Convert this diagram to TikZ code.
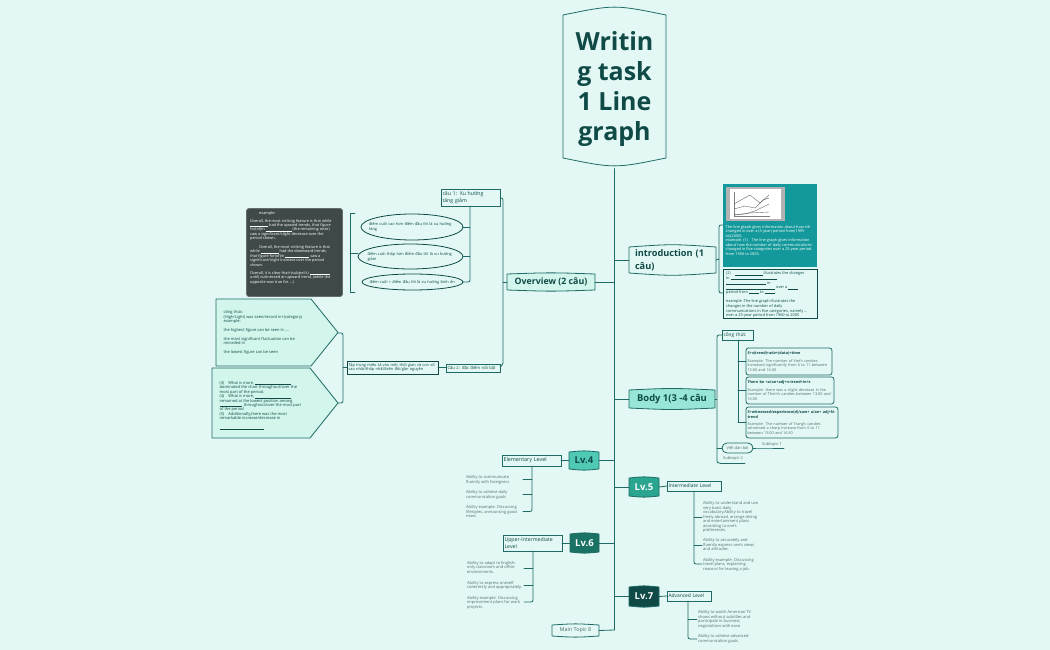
\documentclass[tikz,border=0pt]{standalone}
\usepackage{fontspec}
\setmainfont{Open Sans}
\usetikzlibrary{calc}
\definecolor{bgc}{HTML}{E3F8F5}
\definecolor{ink}{HTML}{0F4A46}
\definecolor{edge}{HTML}{1F6A64}
\definecolor{soft}{HTML}{D2F5EC}
\definecolor{body}{HTML}{97E6D6}
\definecolor{teal}{HTML}{13999B}
\definecolor{lvfour}{HTML}{4FC9B4}
\definecolor{lvfive}{HTML}{2AA58F}
\definecolor{lvsix}{HTML}{1A7265}
\definecolor{darkbox}{HTML}{3F4A48}
\definecolor{greytxt}{HTML}{4F6F6B}
\newcommand\fs[2]{\fontsize{#1}{#2}\selectfont}
\newcommand\ul[1]{\rule[-0.2pt]{#1pt}{0.2pt}}
\tikzset{
  x=1pt,y=-1pt,
  conn/.style={draw=edge,line width=0.8pt,line cap=round,line join=round,rounded corners=2pt},
  plain/.style={inner sep=0pt,outer sep=0pt,align=left,text=ink},
  boxed/.style={plain,draw=edge,line width=0.8pt,fill=bgc,align=left,text=ink},
  note/.style={anchor=north west,inner sep=0pt,align=left,text=greytxt,font=\fs{4}{4.5}},
  dnote/.style={anchor=north west,inner sep=0pt,align=left,text=ink,font=\fs{4}{4.5}},
  wnote/.style={anchor=north west,inner sep=0pt,align=left,text=white,font=\fs{3.85}{4.5}},
}
% opts x1 y1 x2 y2 name text
\newcommand\rbox[7][]{\node[boxed,minimum width={(#4-#2)*1pt},minimum height={(#5-#3)*1pt},text width={(#4-#2-3)*1pt},#1] (#6) at ({(#2+#4)/2},{(#3+#5)/2}) {#7};}
% name x1 y1 x2 y2 bulge fill textopts text
\newcommand\bulge[9]{%
  \path[draw=edge,line width=0.8pt,fill=#7,line join=round]
    (#2,#3) .. controls ({(#2+#4)/2},{#3-#6}) .. (#4,#3) -- (#4,#5)
    .. controls ({(#2+#4)/2},{#5+#6}) .. (#2,#5) -- cycle;
  \node[plain,align=center,minimum width={(#4-#2)*1pt},minimum height={(#5-#3)*1pt},#8] (#1) at ({(#2+#4)/2},{(#3+#5)/2}) {#9};}
\begin{document}
\begin{tikzpicture}
\useasboundingbox[fill=bgc] (0,0) rectangle (1050,650);

%% ROOT
\bulge{root}{563}{15}{666}{158}{10.5}{bgc}{font=\fs{25}{30}\bfseries,text depth=0pt}{Writin\\g task\\1 Line\\graph}
\coordinate (spineEnd) at (root.south |- 0,630);
\draw[conn] (root.south) ++(0,10.5) -- (spineEnd);

%% INTRODUCTION
\bulge{intro}{629}{247}{716}{273}{3}{bgc}{font=\fs{9.2}{13}\bfseries,align=left,text width=75pt}{introduction (1\\câu)}
\draw[conn] (intro.west) -- (intro.west -| spineEnd);
\node[fill=teal,minimum width=94pt,minimum height=83pt,inner sep=0pt] (tealbox) at (770,225.5) {};
\node[wnote] (tealtext) at (725.5,225) {The line graph gives information about how zth\\changed in over a (5-year) period from(1995\\to)(2000)\\example: (1)\quad The line graph gives information\\about how the number of daily communications\\changed in five categories over a 25-year period\\from 1960 to 2005.};
\path[fill=gray!60] (726,187) rectangle (785,221);
\path[fill=white] (730,189) rectangle (781,219);
\draw[line width=0.3pt,gray] (734,192) -- (734,216) -- (770,216);
\draw[line width=0.35pt,gray!70!black] (734,204) -- (741,200) -- (750,195) -- (760,203) -- (769,195);
\draw[line width=0.35pt,gray!70!black] (734,209) -- (745,206) -- (755,208) -- (763,200) -- (769,198);
\draw[line width=0.35pt,gray!70!black] (734,215) -- (745,214) -- (755,211) -- (769,204);
\draw[line width=0.35pt,gray!70!black] (734,215) -- (750,213) -- (769,212);
\node[draw=ink,line width=0.9pt,fill=bgc,minimum width=94pt,minimum height=49pt,inner sep=0pt] (introb) at (770,293.5) {};
\node[dnote,font=\fs{3.9}{4.7}] (introbtext) at (726,271.5) {(2)\quad \ul{28} illustrates the changes\\in \ul{46}\\\ul{40} in\\\ul{49} over a \ul{10}\\period from \ul{10} to \ul{10}.\\[4.7pt]example :The line graph illustrates the\\changes in the number of daily\\communications in five categories, namely ...\\over a 25-year period from 1960 to 2005};
\coordinate (introJ) at (719,259);
\draw[conn] (intro.east) -- (introJ);
\draw[conn] (tealbox.west |- 0,225) -- (719,225) -- (719,293) -- (introb.west |- 0,293);

%% OVERVIEW
\bulge{over}{507}{274}{595}{290}{1.5}{soft}{font=\fs{8.8}{10}\bfseries}{Overview (2 câu)}
\draw[conn] (over.east) -- (over.east -| spineEnd);
\rbox[font=\fs{5.2}{6.4}]{441}{189}{500}{206}{c1}{câu 1: Xu hướng\\tăng giảm}
\rbox[font=\fs{4.2}{5}]{446}{364}{500}{372}{c2}{Câu 2: đặc điểm nổi bật}
\coordinate (overJ) at (503,282);
\draw[conn] (over.west) -- (overJ);
\draw[conn] (c1.east |- 0,198) -- (503,198) -- (503,365) -- (c2.east |- 0,367);
\foreach \n/\a/\b/\c/\d/\t in {e1/361/214/463/240/{điểm cuối cao hơn điểm đầu thì là xu hướng\\tăng},e2/358/244/463/269/{điểm cuối thấp hơn điểm đầu thì là xu hướng\\giảm},e3/362/274/463/290/{điểm cuối = điểm đầu thì là xu hướng bình ổn}}{
  \path[draw=ink,line width=0.8pt,fill=bgc] ({(\a+\c)/2},{(\b+\d)/2}) ellipse [x radius={(\c-\a)/2},y radius={(\d-\b)/2}];
  \node[plain,font=\fs{3.9}{4.6},text width=86pt] (\n) at ({(\a+\c)/2},{(\b+\d)/2}) {\t};
}
\coordinate (e1e) at (463,227);\coordinate (e2e) at (463,256);\coordinate (e3e) at (463,282);
\coordinate (cTrunk) at (470,206);\coordinate (cTrunkEnd) at (470,282);
\draw[conn] (cTrunk) -- (cTrunkEnd) -- (e3e);
\draw[conn] (e1e) -- (e1e -| cTrunk);
\draw[conn] (e2e) -- (e2e -| cTrunk);
\node[fill=darkbox,draw=darkbox!80!white,line width=0.8pt,rounded corners=2.5pt,minimum width=96pt,minimum height=88pt,inner sep=0pt] (dark) at (294.5,252.5) {};
\node[wnote,font=\fs{3.85}{4.4}] (darktext) at (250,211) {\hspace*{9pt}example:\\[3.5pt]Overall, the most striking feature is that while\\\ul{18} had the upward trends, that figure\\for(of)in \ul{26} (the remaining ones)\\saw a significant/slight decrease over the\\period shown.\\[4.4pt]\hspace*{9pt}Overall, the most striking feature is that\\while \ul{18} had the downward trends,\\that figure for(of)in \ul{24} saw a\\significant/slight increase over the period\\shown.\\[4pt]Overall, it is clear that+(subject's) \ul{20}\\until) outinessed an upward trend, (while the\\opposite was true for....)};
\coordinate (dJ) at (350,253);
\draw[conn,rounded corners=0pt] (355,213) -- (350,213) -- (350,292) -- (355,292);
\draw[conn] (dJ) -- (358,253);

%% CAU 2 DETAIL
\rbox[draw=ink,line width=0.9pt,font=\fs{3.9}{4.6}]{347}{361}{438}{374}{d1}{Tập trung miêu tả vào mốc thời gian và con số\\cao nhất/thấp nhất/biến đổi/gần nguyên}
\draw[conn] (d1.east) -- (c2.west |- d1.east);
\path[draw=edge,line width=0.8pt,fill=soft,line join=round] (216,299) -- (311,299) -- (338,332.5) -- (311,366) -- (216,366) -- cycle;
\path[draw=edge,line width=0.8pt,fill=soft,line join=round] (212,368) -- (310,368) -- (338,403) -- (310,438) -- (212,438) -- cycle;
\node[dnote,font=\fs{4}{4.5}] (p1) at (223.5,310.5) {công thức:\\(High/Light) was seen/record in+(category)\\example:\\[4.5pt]the highest figure can be seen in ....\\[4pt]the most significant fluctuation can be\\recorded in\\[4.5pt]the lowest figure can be seen};
\node[dnote,font=\fs{4}{4.45}] (p2) at (219.5,381) {(3)\quad What is more, \ul{36}\\dominated the chart throughout/over the\\most part of the period.\\(4)\quad What is more, \ul{36}\\remained at the lowest position among\\\ul{22}\ \ throughout/over the most part\\of the period\\(5)\quad Additionally,there was the most\\remarkable increase/decrease in\\[4.5pt]\ul{44}};
\coordinate (pTip) at (338,333);\coordinate (qTip) at (338,403);
\draw[conn] (pTip) -- (343,333) -- (343,403) -- (qTip);
\draw[conn] (d1.west) -- (343,367.5);

%% BODY
\bulge{bodyb}{629}{390}{715}{408}{2}{body}{font=\fs{9.4}{12}\bfseries}{Body 1(3 -4 câu}
\draw[conn] (bodyb.west) -- (bodyb.west -| spineEnd);
\rbox[font=\fs{4.8}{6}]{722}{330}{753}{340}{cong}{công thức}
\rbox[rounded corners=2.5pt,font=\fs{3.8}{4.4}]{746}{348}{832}{375}{fa}{\textbf{S+v(trend)+adv+(data)+time}\\[3pt]{\color{greytxt}Example: The number of Viet's candies\\increased significantly from 6 to 11 between\\13:00 and 16:00}}
\rbox[rounded corners=2.5pt,font=\fs{3.8}{4.4}]{746}{377}{834}{404}{fb}{\textbf{There be +a/an+adj+n-trend+in+s}\\[3pt]{\color{greytxt}Example: there was a slight decrease in the\\number of Thinh's candies between 13:00 and\\16:00}}
\rbox[rounded corners=2.5pt,font=\fs{3.8}{4.4}]{746}{407}{838}{438}{fc}{\textbf{S+witnessed/experience(d)/saw+ a/an+ adj+N-}\\\textbf{trend}\\[3pt]{\color{greytxt}Example: The number of Trang's candies\\witnessed a sharp increase from 6 to 11\\between 13:00 and 16:30}}
\node[boxed,rounded corners=5pt,minimum width=31pt,minimum height=10pt,align=center,font=\fs{4}{5},text=greytxt] (vdb) at (737.5,448) {Viết dàn bài};
\node[plain,font=\fs{4}{5},text=greytxt] (st1) at (772,444) {Subtopic 1};
\node[plain,font=\fs{4}{5},text=greytxt] (st2) at (733,458) {Subtopic 2};
\coordinate (st1a) at (760,448);\coordinate (st1b) at (784,448);
\coordinate (st2a) at (720,463);\coordinate (st2b) at (745,463);
\coordinate (bJ) at (717,399);
\draw[conn] (bodyb.east) -- (bJ);
\draw[conn] (cong.west) -- (717,335) -- (717,463) -- (st2a);
\draw[conn] (st2a) -- (st2b);
\draw[conn] (vdb.west) -- (vdb.west -| bJ);
\draw[conn] (vdb.east) -- (st1a) -- (st1b);
\coordinate (ft) at (738,340);
\draw[conn] (ft) -- (ft |- fc.west);
\draw[conn] (fc.west) -- (fc.west -| ft);
\draw[conn] (fb.west) -- (fb.west -| ft);
\draw[conn] (fa.west) -- (fa.west -| ft);

%% LV 4
\bulge{lv4}{569}{452}{599}{469}{1.5}{lvfour}{font=\fs{9.5}{10}\bfseries}{Lv.4}
\draw[conn] (lv4.east) -- (lv4.east -| spineEnd);
\rbox[font=\fs{5.4}{6.5}]{502}{455}{561}{466}{el}{Elementary Level}
\draw[conn] (el.east) -- (lv4.west);
\node[note] (el1) at (466,475.5) {Ability to communicate\\fluently with foreigners};
\node[note] (el2) at (466,490.5) {Ability to achieve daily\\communication goals};
\node[note] (el3) at (466,505.5) {Ability example: Discussing\\lifestyles, announcing good\\news.};
\coordinate (elT) at (532,466);
\coordinate (el1e) at (523,479.5);\coordinate (el2e) at (523,494.5);\coordinate (el3e) at (523,511.5);
\draw[conn] (elT) -- (elT |- el3e) -- (el3e);
\draw[conn] (el1e) -- (el1e -| elT);
\draw[conn] (el2e) -- (el2e -| elT);

%% LV 6
\bulge{lv6}{570}{534}{599}{552}{1.5}{lvsix}{font=\fs{9.5}{10}\bfseries,text=white}{Lv.6}
\draw[conn] (lv6.east) -- (lv6.east -| spineEnd);
\rbox[font=\fs{5.2}{6.6}]{503}{535}{562}{551}{ui}{Upper-Intermediate\\Level}
\draw[conn] (ui.east) -- (lv6.west);
\node[note] (ui1) at (467,561) {Ability to adapt to English-\\only classroom and office\\environments.};
\node[note] (ui2) at (467,581) {Ability to express oneself\\coherently and appropriately.};
\node[note] (ui3) at (467,596) {Ability example: Discussing\\improvement plans for work\\projects.};
\coordinate (uiT) at (533,551);
\coordinate (ui1e) at (524,568);\coordinate (ui2e) at (524,585);\coordinate (ui3e) at (524,602);
\draw[conn] (uiT) -- (uiT |- ui3e) -- (ui3e);
\draw[conn] (ui1e) -- (ui1e -| uiT);
\draw[conn] (ui2e) -- (ui2e -| uiT);

%% MAIN TOPIC 8
\bulge{mt}{552}{625}{599}{636}{1.5}{bgc}{font=\fs{5.4}{6},text=greytxt}{Main Topic 8}
\draw[conn] (mt.east) -- (spineEnd);

%% LV 5
\bulge{lv5}{629}{478}{659}{496}{1.5}{lvfive}{font=\fs{9.5}{10}\bfseries,text=white}{Lv.5}
\draw[conn] (lv5.west) -- (lv5.west -| spineEnd);
\rbox[font=\fs{4.9}{6}]{667}{481}{721}{491}{im}{Intermediate Level}
\draw[conn] (lv5.east) -- (im.west);
\node[note] (im1) at (703,501.5) {Ability to understand and use\\very basic daily\\vocabulary.Ability to travel\\freely abroad, arrange dining\\and entertainment plans\\according to one's\\preferences.};
\node[note] (im2) at (703,538.5) {Ability to accurately and\\fluently express one's views\\and attitudes.};
\node[note] (im3) at (703,558) {Ability example: Discussing\\travel plans, explaining\\reasons for leaving a job.};
\coordinate (imT) at (694,491);
\coordinate (im1e) at (702,517);\coordinate (im2e) at (702,545);\coordinate (im3e) at (702,564);
\draw[conn] (imT) -- (imT |- im3e) -- (im3e);
\draw[conn] (im1e) -- (im1e -| imT);
\draw[conn] (im2e) -- (im2e -| imT);

%% LV 7
\bulge{lv7}{629}{587}{659}{606}{1.5}{ink}{font=\fs{9.5}{10}\bfseries,text=white}{Lv.7}
\draw[conn] (lv7.west) -- (lv7.west -| spineEnd);
\rbox[font=\fs{4.9}{6}]{667}{591}{711}{601}{ad}{Advanced Level}
\draw[conn] (lv7.east) -- (ad.west);
\node[note] (ad1) at (698,610.5) {Ability to watch American TV\\shows without subtitles and\\participate in business\\negotiations with ease.};
\node[note] (ad2) at (698,634.5) {Ability to achieve advanced\\communication goals.};
\coordinate (adT) at (688,601);
\coordinate (ad1e) at (697,619);\coordinate (ad2e) at (697,639);
\draw[conn] (adT) -- (adT |- ad2e) -- (ad2e);
\draw[conn] (ad1e) -- (ad1e -| adT);
\end{tikzpicture}
\end{document}
